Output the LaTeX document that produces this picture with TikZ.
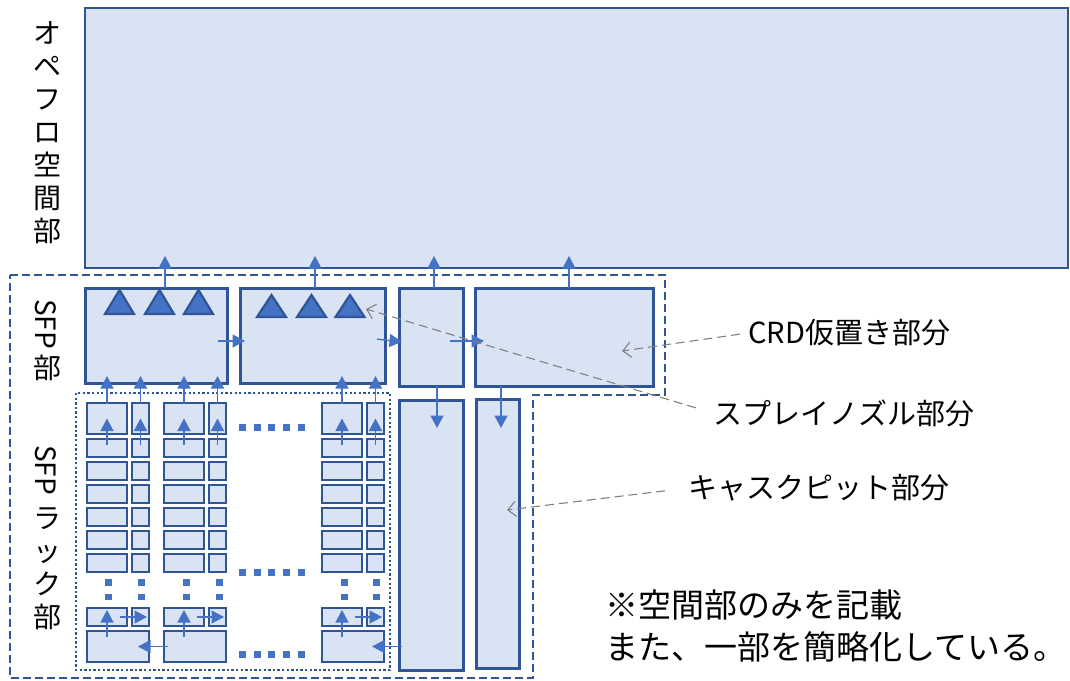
\documentclass[tikz,border=0pt]{standalone}
\usepackage{fontspec}
\setmainfont{Noto Sans CJK JP}
\usetikzlibrary{arrows.meta}
\definecolor{fillb}{HTML}{DAE3F3}
\definecolor{edgeb}{HTML}{2F5597}
\definecolor{arrb}{HTML}{4472C4}
\definecolor{noteg}{HTML}{808080}
\newcommand{\mybox}[6][]{\node[box,minimum width={((#5)-(#3))*1pt},minimum height={((#6)-(#4))*1pt},#1] (#2) at ({((#3)+(#5))/2},{((#4)+(#6))/2}) {};}
\tikzset{
  box/.style={draw=edgeb,fill=fillb,line width=3pt,inner sep=0pt,outer sep=0pt},
  bigbox/.style={line width=2.6pt},
  rbox/.style={line width=2.4pt},
  arr/.style={draw=arrb,line width=1.4pt,-{Triangle[length=12.5pt,width=13pt]}},
  note/.style={draw=noteg,line width=1.1pt,dash pattern=on 9pt off 5pt,-{Straight Barb[length=8pt,width=15pt]}},
  nozzle/.style={fill=arrb,draw=edgeb,line width=2.2pt,line join=miter},
  sfpline/.style={draw=edgeb,line width=2.6pt,dash pattern=on 8pt off 4pt},
  rackline/.style={draw=edgeb,line width=2.3pt,dash pattern=on 2.3pt off 2.3pt},
  bigdots/.style={draw=arrb,line width=7pt,dash pattern=on 7pt off 7.7pt},
  lbl/.style={inner sep=0pt,font=\fontsize{29pt}{34pt}\selectfont,anchor=west},
  vlbl/.style={inner sep=0pt,align=center,font=\fontsize{28pt}{33pt}\selectfont},
  memo/.style={inner sep=0pt,align=left,anchor=north west,font=\fontsize{33pt}{42pt}\selectfont},
}
\begin{document}
\begin{tikzpicture}[x=1pt,y=-1pt]
\fill[white] (0,0) rectangle (1070,680);
\useasboundingbox (0,0) rectangle (1070,680);

% outlines
\draw[sfpline] (10,275) -- (665,275) -- (665,395) -- (533,395) -- (533,678) -- (10,678) -- cycle;
\draw[rackline] (76,393) rectangle (390,670);

% main boxes
\mybox[bigbox]{opfl}{85}{8}{1068}{268}
\mybox{sfp1}{85}{288}{227}{383}
\mybox{sfp2}{240}{288}{385}{383}
\mybox{sfp3}{399}{288}{463}{386}
\mybox{sfp4}{475}{288}{653}{386}
\mybox{c1}{399}{400}{463}{670}
\mybox{c2}{476}{399}{519}{668}

% rack boxes
\foreach \gi/\xa/\xb/\xc/\xd in {1/86/128/131/150, 2/163/205/208/227, 3/321/363/366/385} {
  \foreach \ri/\ya/\yb in {1/402/435, 2/438/458, 3/461/481, 4/484/504, 5/507/527, 6/530/550, 7/553/573, 8/607/627} {
    \mybox[rbox]{g\gi b\ri}{\xa+1}{\ya+1}{\xb-1}{\yb-1}
    \mybox[rbox]{g\gi s\ri}{\xc+1}{\ya+1}{\xd-1}{\yb-1}
  }
  \mybox[rbox]{g\gi bot}{\xa+1}{631}{\xd-1}{662}
}

% omitted parts
\foreach \yy in {427,572,654} \draw[bigdots] (239,\yy) -- (306,\yy);
\foreach \xx in {108,141,186,219,344,376} \draw[bigdots] (\xx,579) -- (\xx,600);

% nozzles
\foreach \cx/\ty/\by in {119.5/290/314, 159.5/290/314, 198.5/290/314, 271.5/295/317, 311.5/295/317, 350/295/317}
  \filldraw[nozzle] (\cx-14.5,\by) -- (\cx,\ty) -- (\cx+14.5,\by) -- cycle;

% flow arrows, SFP
\draw[arr,shorten >=-12pt] ([xshift=9pt]sfp1.north) -- ([xshift=9pt]sfp1.north |- opfl.south);
\draw[arr,shorten >=-12pt] ([xshift=2.5pt]sfp2.north) -- ([xshift=2.5pt]sfp2.north |- opfl.south);
\draw[arr,shorten >=-12pt] ([xshift=3pt]sfp3.north) -- ([xshift=3pt]sfp3.north |- opfl.south);
\draw[arr,shorten >=-12pt] ([xshift=5pt]sfp4.north) -- ([xshift=5pt]sfp4.north |- opfl.south);
\draw[arr,shorten <=-9pt,shorten >=-5pt] ([yshift=-5.5pt]sfp1.east) -- ([yshift=-5.5pt]sfp2.west);
\draw[arr,shorten <=-8pt,shorten >=-3pt] ([yshift=-4.5pt]sfp2.east) -- ([yshift=-4.5pt]sfp3.west);
\draw[arr,shorten <=-13pt,shorten >=-9pt] ([yshift=-4pt]sfp3.east) -- ([yshift=-4pt]sfp4.west);
\draw[arr,shorten >=-28pt] ([xshift=6pt]sfp3.south) -- ([xshift=6pt]sfp3.south |- c1.north);
\draw[arr,shorten >=-29pt] ([xshift=3.5pt]c2.north |- sfp4.south) -- ([xshift=3.5pt]c2.north);

% flow arrows, rack
\foreach \gi/\tg in {1/sfp1,2/sfp1,3/sfp2} {
  \foreach \kind in {b,s} {
    \draw[arr,shorten <=-6pt] (g\gi\kind2.north) -- (g\gi\kind1.center);
    \draw[arr,shorten <=-1pt,shorten >=-7pt] (g\gi\kind1.north) -- (g\gi\kind1.north |- \tg.south);
  }
  \draw[arr,shorten <=-6pt,shorten >=2pt] (g\gi b8.south |- g\gi bot.north) -- (g\gi b8.north);
  \draw[arr,shorten <=-7pt,shorten >=2pt] (g\gi b8.east) -- (g\gi s8.east);
}
\draw[arr,shorten <=-4pt,shorten >=-11pt] (g2bot.west) -- (g1bot.east);
\draw[arr,shorten <=-3pt,shorten >=-12pt] (c1.west |- g3bot.east) -- (g3bot.east);

% side labels
\node[vlbl] (lopfl) at (47,133) {オ\\ペ\\フ\\ロ\\空\\間\\部};
\node[vlbl,rotate=-90] (lsfp) at (46,324) {SFP};
\node[vlbl] (lsfpb) at (47,368) {部};
\node[vlbl,rotate=-90] (lrack) at (46,470) {SFP};
\node[vlbl] (lrackb) at (47,568.5) {ラ\\ッ\\ク\\部};

% annotations
\node[lbl] (crdl) at (748,333) {CRD仮置き部分};
\node[lbl] (sprl) at (713,413) {スプレイノズル部分};
\node[lbl] (caskl) at (688,488) {キャスクピット部分};
\coordinate (crdt) at (622,351);
\coordinate (sprt) at (366,309);
\coordinate (caskt) at (507,510);
\draw[note,shorten <=8pt] (crdl.west) -- (crdt);
\draw[note,shorten <=18pt] (sprl.west) -- (sprt);
\draw[note,shorten <=23pt] (caskl.west) -- (caskt);

\node[memo] (memo) at (605,590) {※空間部のみを記載\\また、一部を簡略化している。};
\end{tikzpicture}
\end{document}
